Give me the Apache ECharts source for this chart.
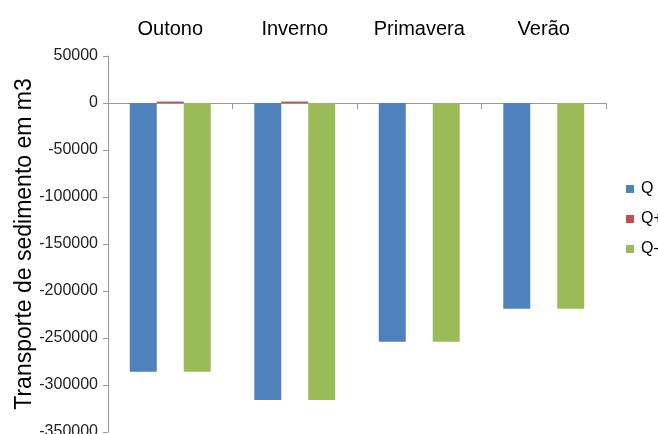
<!DOCTYPE html>
<html>
<head>
<meta charset="utf-8">
<script src="https://cdn.jsdelivr.net/npm/echarts@6/dist/echarts.min.js"></script>
<style>
  html, body { margin: 0; padding: 0; background: #fff; }
  #main { width: 658px; height: 434px; }
</style>
</head>
<body>
<div id="main"></div>
<script>
var seasons = ['Outono', 'Inverno', 'Primavera', 'Verão'];
var qTotal = [-286000, -316000, -254000, -219000];
var qPlus = [1500, 1500, 0, 0];
var qMinus = [-286000, -316000, -254000, -219000];

var chart = echarts.init(document.getElementById('main'));
chart.setOption({
    animation: false,
    textStyle: { fontFamily: 'Liberation Sans, Arial, sans-serif' },
    grid: { left: 108, right: 52, top: 56, bottom: 2, containLabel: false, outerBoundsMode: 'none' },
    legend: {
        orient: 'vertical',
        left: 626,
        top: 181,
        width: 80,
        padding: 0,
        itemWidth: 8,
        itemHeight: 8,
        itemGap: 14,
        icon: 'rect',
        textStyle: { fontSize: 16, color: '#000', padding: [0, 0, 0, 2], overflow: 'none', width: 40 },
        data: ['Q', 'Q+', 'Q-']
    },
    xAxis: [
        {
            type: 'category',
            data: seasons,
            position: 'top',
            axisLine: { show: false, onZero: false },
            axisTick: { show: false },
            axisLabel: { fontSize: 20, color: '#000', margin: 17 }
        },
        {
            type: 'category',
            data: seasons,
            position: 'bottom',
            axisLine: { onZero: true, lineStyle: { color: '#999' } },
            axisTick: { show: true, length: 6, lineStyle: { color: '#999' } },
            axisLabel: { show: false }
        }
    ],
    yAxis: {
        type: 'value',
        min: -350000,
        max: 50000,
        interval: 50000,
        name: 'Transporte de sedimento em m3',
        nameLocation: 'middle',
        nameGap: 72,
        nameMoveOverlap: false,
        nameTextStyle: { fontSize: 23, color: '#000' },
        axisLine: { show: true, lineStyle: { color: '#999' } },
        axisTick: { show: true, length: 5, lineStyle: { color: '#999' } },
        axisLabel: { fontSize: 16, color: '#222', margin: 10, formatter: function (v) { return String(v); } },
        splitLine: { show: false }
    },
    series: [
        { name: 'Q', type: 'bar', data: qTotal, barGap: '0%', barCategoryGap: '35%', itemStyle: { color: '#4F81BD' } },
        { name: 'Q+', type: 'bar', data: qPlus, itemStyle: { color: '#C0504D' } },
        { name: 'Q-', type: 'bar', data: qMinus, itemStyle: { color: '#9BBB59' } }
    ]
});
</script>
</body>
</html>
